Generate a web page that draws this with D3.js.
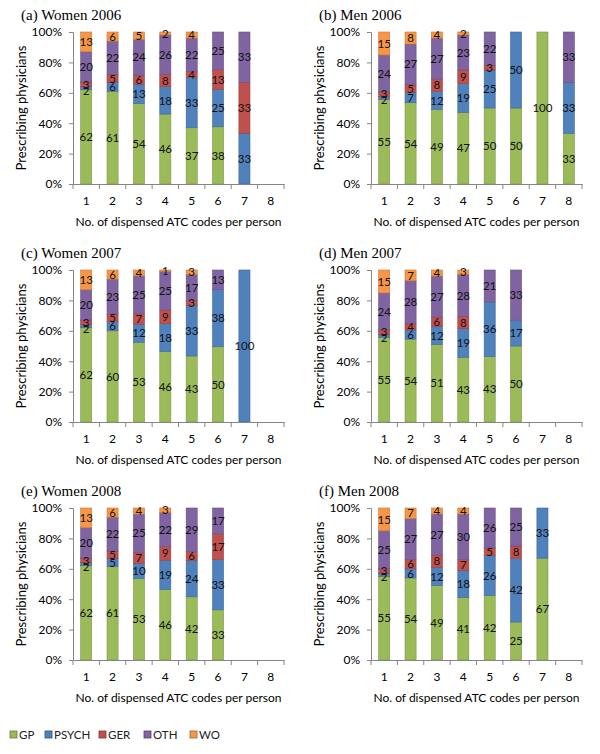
<!DOCTYPE html>
<html><head><meta charset="utf-8">
<script src="https://cdn.jsdelivr.net/npm/d3@7"></script>
<style>body{margin:0;background:#fff}svg{display:block}</style>
</head><body>
<svg id="c" width="600" height="754"></svg>
<script>
const categories = ["1","2","3","4","5","6","7","8"];
const seriesNames = ["GP","PSYCH","GER","OTH","WO"];
const seriesColors = ["#9BBB59","#4F81BD","#C0504D","#8064A2","#F79646"];
const yTicks = [0,0.2,0.4,0.6,0.8,1.0];
const panelTitles = ["(a) Women 2006","(b) Men 2006","(c) Women 2007","(d) Men 2007","(e) Women 2008","(f) Men 2008"];
// each row: [GP, PSYCH, GER, OTH, WO] per category; null = no bar
const women2006 = [[62,2,3,20,13],[61,6,5,22,6],[54,13,6,24,5],[46,18,8,26,2],[37,33,4,22,4],[38,25,13,25,0],[0,33,33,33,0],null];
const men2006   = [[55,2,3,24,15],[54,7,5,27,8],[49,12,8,27,4],[47,19,9,23,2],[50,25,3,22,0],[50,50,0,0,0],[100,0,0,0,0],[33,33,0,33,0]];
const women2007 = [[62,2,3,20,13],[60,6,5,23,6],[53,12,7,25,4],[46,18,9,25,1],[43,33,3,17,3],[50,38,0,13,0],[0,100,0,0,0],null];
const men2007   = [[55,2,3,24,15],[54,6,4,28,7],[51,12,6,27,4],[43,19,8,28,3],[43,36,0,21,0],[50,17,0,33,0],null,null];
const women2008 = [[62,2,3,20,13],[61,5,5,22,6],[53,10,7,25,4],[46,19,9,22,3],[42,24,6,29,0],[33,33,17,17,0],null,null];
const men2008   = [[55,2,3,25,15],[54,6,6,27,7],[49,12,8,27,4],[41,18,7,30,4],[42,26,5,26,0],[25,42,8,25,0],[67,33,0,0,0],null];
const panelData = [women2006, men2006, women2007, men2007, women2008, men2008];

const svg = d3.select("#c");
const font = "Lato, 'Open Sans', sans-serif";
const axisColor = "#868686";
const plotW = 211, plotH = 152;
const colX = [73, 371], rowY = [32, 270, 508];

panelData.forEach((rows, pi) => {
  const ox = colX[pi % 2], oy = rowY[Math.floor(pi / 2)];
  const g = svg.append("g").attr("transform", `translate(${ox},${oy})`);
  const x = d3.scaleBand().domain(categories).range([0, plotW]).paddingInner(0.58).paddingOuter(0.29);
  const y = d3.scaleLinear().domain([0, 1]).range([plotH, 0]);

  // title
  svg.append("text").attr("x", ox - 52).attr("y", oy - 12)
    .attr("font-family", "'Liberation Serif', 'Times New Roman', serif").attr("font-size", 15)
    .attr("fill", "#000").text(panelTitles[pi]);

  // bars
  const stacks = [];
  rows.forEach((vals, ci) => {
    if (!vals) return;
    const total = d3.sum(vals);
    let acc = 0;
    let prevLabelY = null;
    const col = [];
    vals.forEach((v, si) => {
      if (!v) return;
      const y0 = acc / total, y1 = (acc + v) / total;
      acc += v;
      col.push({cat: categories[ci], si, v, y0, y1, ly: y((y0 + y1) / 2)});
    });
    // nudge labels of thin segments apart from top down (like the reference)
    for (let k = col.length - 2; k >= 0; k--) {
      if (col[k].ly - col[k + 1].ly < 6) col[k].ly = col[k + 1].ly + 6;
    }
    stacks.push(...col);
  });
  g.selectAll("rect.seg").data(stacks).join("rect").attr("class", "seg")
    .attr("x", d => x(d.cat)).attr("width", x.bandwidth())
    .attr("y", d => y(d.y1)).attr("height", d => y(d.y0) - y(d.y1))
    .attr("fill", d => seriesColors[d.si])
    .attr("stroke", d => d3.color(seriesColors[d.si]).darker(0.6)).attr("stroke-width", 0.6);
  g.selectAll("text.lab").data(stacks).join("text").attr("class", "lab")
    .attr("x", d => x(d.cat) + x.bandwidth() / 2).attr("y", d => d.ly)
    .attr("dy", "0.36em").attr("text-anchor", "middle")
    .attr("font-family", font).attr("font-size", 11.5).attr("fill", "#111").text(d => d.v);

  // y axis
  const ya = d3.axisLeft(y).tickValues(yTicks).tickFormat(d3.format(".0%")).tickSize(4).tickPadding(7);
  const yg = g.append("g").call(ya);
  yg.select(".domain").attr("stroke", axisColor);
  yg.selectAll(".tick line").attr("stroke", axisColor);
  yg.selectAll(".tick text").attr("font-family", font).attr("font-size", 12).attr("fill", "#000");

  // x axis
  const xa = d3.axisBottom(x).tickSize(0).tickPadding(12);
  const xg = g.append("g").attr("transform", `translate(0,${plotH})`).call(xa);
  xg.select(".domain").attr("stroke", axisColor);
  xg.selectAll(".tick text").attr("font-family", font).attr("font-size", 12).attr("fill", "#000");
  const bounds = d3.range(categories.length + 1).map(i => i * x.step());
  xg.selectAll("line.bt").data(bounds).join("line").attr("class", "bt")
    .attr("x1", d => d).attr("x2", d => d).attr("y1", 0).attr("y2", 5).attr("stroke", axisColor);

  // axis titles
  g.append("text").attr("x", plotW / 2).attr("y", plotH + 42).attr("text-anchor", "middle")
    .attr("font-family", font).attr("font-size", 12).attr("fill", "#000")
    .text("No. of dispensed ATC codes per person");
  g.append("text").attr("transform", `translate(-47,${plotH / 2}) rotate(-90)`)
    .attr("text-anchor", "middle").attr("font-family", font).attr("font-size", 13).attr("fill", "#000")
    .text("Prescribing physicians");
});

// legend
const legX = [10, 45, 99, 144, 190];
const lg = svg.append("g");
seriesNames.forEach((s, i) => {
  lg.append("rect").attr("x", legX[i]).attr("y", 731).attr("width", 7).attr("height", 7)
    .attr("fill", seriesColors[i]).attr("stroke", d3.color(seriesColors[i]).darker(1.2)).attr("stroke-width", 0.8);
  lg.append("text").attr("x", legX[i] + 9).attr("y", 738.5).attr("font-family", font)
    .attr("font-size", 11.5).attr("fill", "#222").text(s);
});
</script>
</body></html>
